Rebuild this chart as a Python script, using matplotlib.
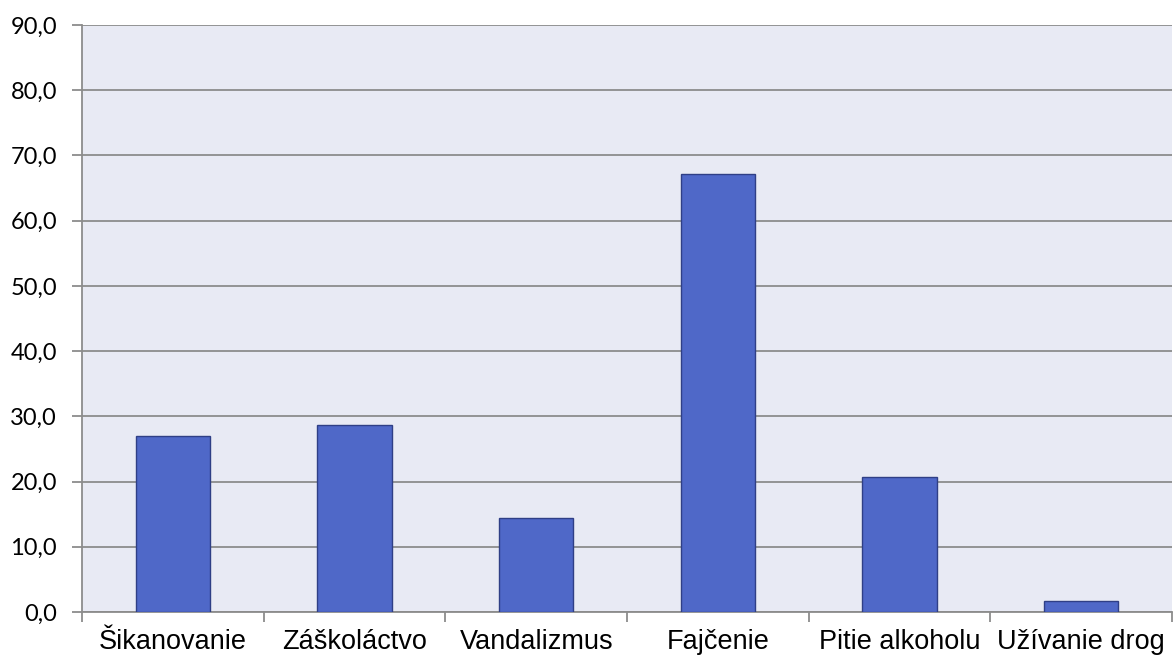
import numpy as np
import matplotlib
matplotlib.use("Agg")
import matplotlib.pyplot as plt

categories = ["Šikanovanie", "Záškoláctvo", "Vandalizmus", "Fajčenie", "Pitie alkoholu", "Užívanie drog"]
values = [27.0, 28.7, 14.4, 67.2, 20.7, 1.7]
y_ticks = np.arange(0, 91, 10)

fig = plt.figure(figsize=(11.73, 6.59), dpi=100)
ax = fig.add_axes([0.0699, 0.0713, 0.9293, 0.8908])
ax.set_facecolor("#E8EAF4")

x = np.arange(len(categories))
ax.bar(x, values, width=0.41, color="#4F68C8", edgecolor="#2F3F86", linewidth=1.0, zorder=3)

ax.set_xlim(-0.5, len(categories) - 0.5)
ax.set_ylim(0, 90)
ax.set_yticks(y_ticks)
ax.set_yticklabels([f"{v:.1f}".replace(".", ",") for v in y_ticks], fontsize=17, family="Lato")
ax.yaxis.grid(True, color="#8C8C8C", linewidth=1.3, zorder=1)

ax.set_xticks(x)
ax.set_xticklabels(categories, fontsize=19.5, family="Liberation Sans")
ax.tick_params(axis="x", length=0, pad=12)
ax.set_xticks(np.arange(-0.5, len(categories)), minor=True)
ax.tick_params(axis="x", which="minor", length=7, color="#8C8C8C", width=1.3)
ax.tick_params(axis="y", length=7, color="#8C8C8C", width=1.3, pad=11)

for s in ["top", "right"]:
    ax.spines[s].set_visible(False)
for s in ["left", "bottom"]:
    ax.spines[s].set_color("#8C8C8C")
    ax.spines[s].set_linewidth(1.3)

fig.savefig("out.png", dpi=100, facecolor="white")
